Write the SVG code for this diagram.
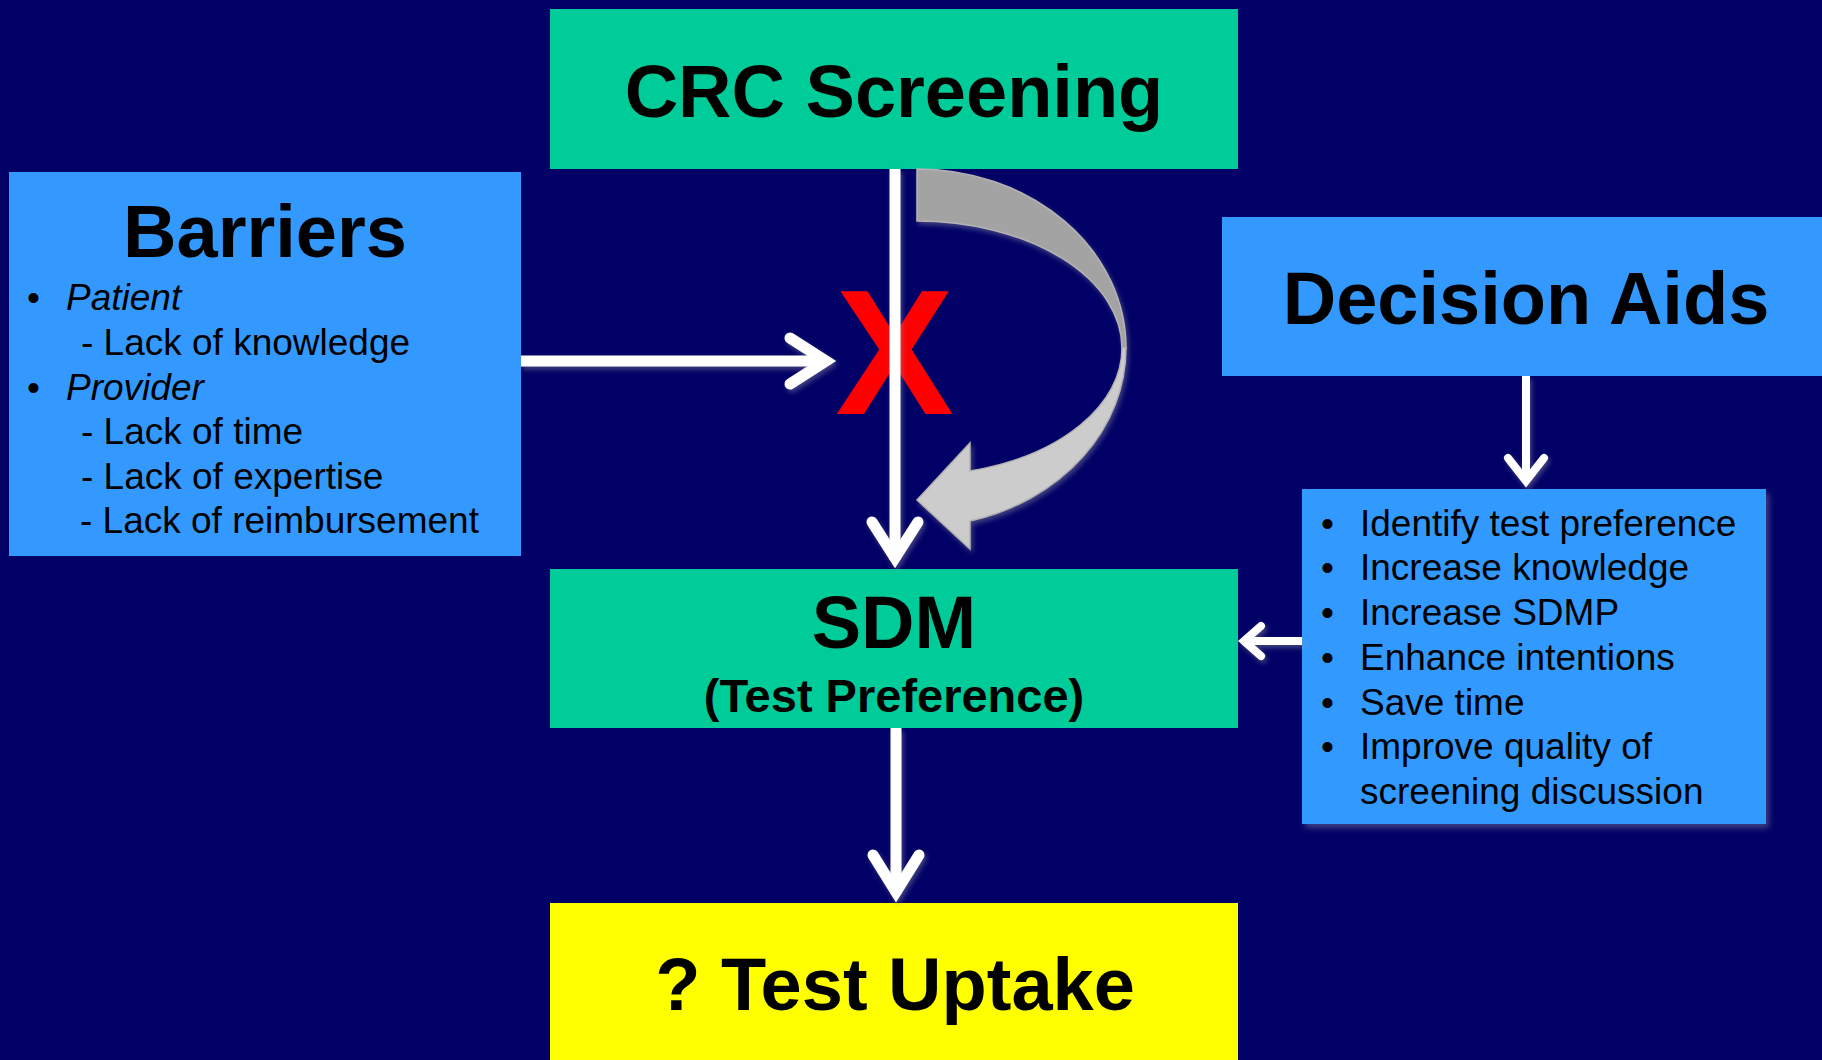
<svg xmlns="http://www.w3.org/2000/svg" width="1822" height="1060" viewBox="0 0 1822 1060">
  <defs>
    <style>
      text { font-family: "Liberation Sans", Arial, Helvetica, sans-serif; fill: #000; }
      .title { font-size: 74px; font-weight: bold; text-anchor: middle; }
      .sub { font-size: 47px; font-weight: bold; text-anchor: middle; }
      .item { font-size: 37px; }
      .ital { font-style: italic; }
      .green { fill: #00CC99; }
      .blue { fill: #3399FF; }
      .line { stroke: #FFFFFF; fill: none; stroke-linecap: butt; stroke-linejoin: miter; }
      .head { stroke-linecap: round; }
      .thick { stroke-width: 11; }
      .thin { stroke-width: 8; }
    </style>
    <filter id="shadow" x="-10%" y="-10%" width="130%" height="130%">
      <feDropShadow dx="2" dy="3" stdDeviation="2.5" flood-color="#9090a0" flood-opacity="0.45"/>
    </filter>
    <filter id="boxshadow" x="-5%" y="-5%" width="115%" height="115%">
      <feDropShadow dx="3" dy="4" stdDeviation="3" flood-color="#8080a0" flood-opacity="0.5"/>
    </filter>
  </defs>

  <rect x="0" y="0" width="1822" height="1060" fill="#000066"/>

  <g id="node-crc-screening">
    <rect class="green" x="550" y="9" width="688" height="160"/>
    <text class="title" x="894" y="117">CRC Screening</text>
  </g>

  <g id="node-barriers">
    <rect class="blue" x="9" y="172" width="512" height="384"/>
    <text class="title" x="265" y="257">Barriers</text>
    <text class="item" x="27" y="310">•</text>
    <text class="item ital" x="66" y="310">Patient</text>
    <text class="item" x="81" y="355">- Lack of knowledge</text>
    <text class="item" x="27" y="399.5">•</text>
    <text class="item ital" x="66" y="399.5">Provider</text>
    <text class="item" x="81" y="444">- Lack of time</text>
    <text class="item" x="81" y="488.5">- Lack of expertise</text>
    <text class="item" x="80" y="533">- Lack of reimbursement</text>
  </g>

  <g id="node-decision-aids">
    <rect class="blue" x="1222" y="217" width="600" height="159"/>
    <text class="title" x="1526" y="324">Decision Aids</text>
  </g>

  <g id="node-decision-aid-effects">
    <rect class="blue" x="1302" y="489" width="464" height="335" filter="url(#boxshadow)"/>
    <text class="item" x="1321" y="535.5">•</text>
    <text class="item" x="1360" y="535.5">Identify test preference</text>
    <text class="item" x="1321" y="580">•</text>
    <text class="item" x="1360" y="580">Increase knowledge</text>
    <text class="item" x="1321" y="625">•</text>
    <text class="item" x="1360" y="625">Increase SDMP</text>
    <text class="item" x="1321" y="670">•</text>
    <text class="item" x="1360" y="670">Enhance intentions</text>
    <text class="item" x="1321" y="714.5">•</text>
    <text class="item" x="1360" y="714.5">Save time</text>
    <text class="item" x="1321" y="759">•</text>
    <text class="item" x="1360" y="759">Improve quality of</text>
    <text class="item" x="1360" y="804">screening discussion</text>
  </g>

  <g id="node-sdm">
    <rect class="green" x="550" y="569" width="688" height="159"/>
    <text class="title" x="894" y="648">SDM</text>
    <text class="sub" x="894" y="712">(Test Preference)</text>
  </g>

  <g id="node-test-uptake">
    <rect x="550" y="903" width="688" height="157" fill="#FFFF00"/>
    <text class="title" x="895" y="1010">? Test Uptake</text>
  </g>

  <g id="blocked-mark">
    <text x="894.5" y="414" font-size="178" font-weight="bold" text-anchor="middle" style="fill:#FF0000">X</text>
  </g>

  <g id="connectors" filter="url(#shadow)">
    <line class="line thick" x1="895" y1="169" x2="895" y2="560"/>
    <polyline class="line head thick" points="872,522 895,558 918,522"/>
    <line class="line thick" x1="521" y1="361" x2="826" y2="361"/>
    <polyline class="line head thick" points="790,338 826,361 790,384"/>
    <line class="line thick" x1="896" y1="728" x2="896" y2="894"/>
    <polyline class="line head thick" points="873,855 896,892 919,855"/>
    <line class="line thin" x1="1526" y1="376" x2="1526" y2="480"/>
    <polyline class="line head thin" points="1508,458 1526,481 1544,458"/>
    <line class="line thin" x1="1302" y1="641" x2="1246" y2="641"/>
    <polyline class="line head thin" points="1261,626 1244,641 1261,656"/>
  </g>

  <g id="bypass-arrow" filter="url(#shadow)">
    <path d="M917,169 A209,179 0 0 1 1126,348 L1122,348 A205,127 0 0 0 917,221 Z" fill="#A3A3A3" stroke="#B4B4B4" stroke-width="1.5"/>
    <path d="M1126,348 A209,179 0 0 1 970,521 L970,549 L917,500 L970,443 L970,471 A205,127 0 0 0 1122,348 Z" fill="#CCCCCC" stroke="#B4B4B4" stroke-width="1.5"/>
  </g>
</svg>
